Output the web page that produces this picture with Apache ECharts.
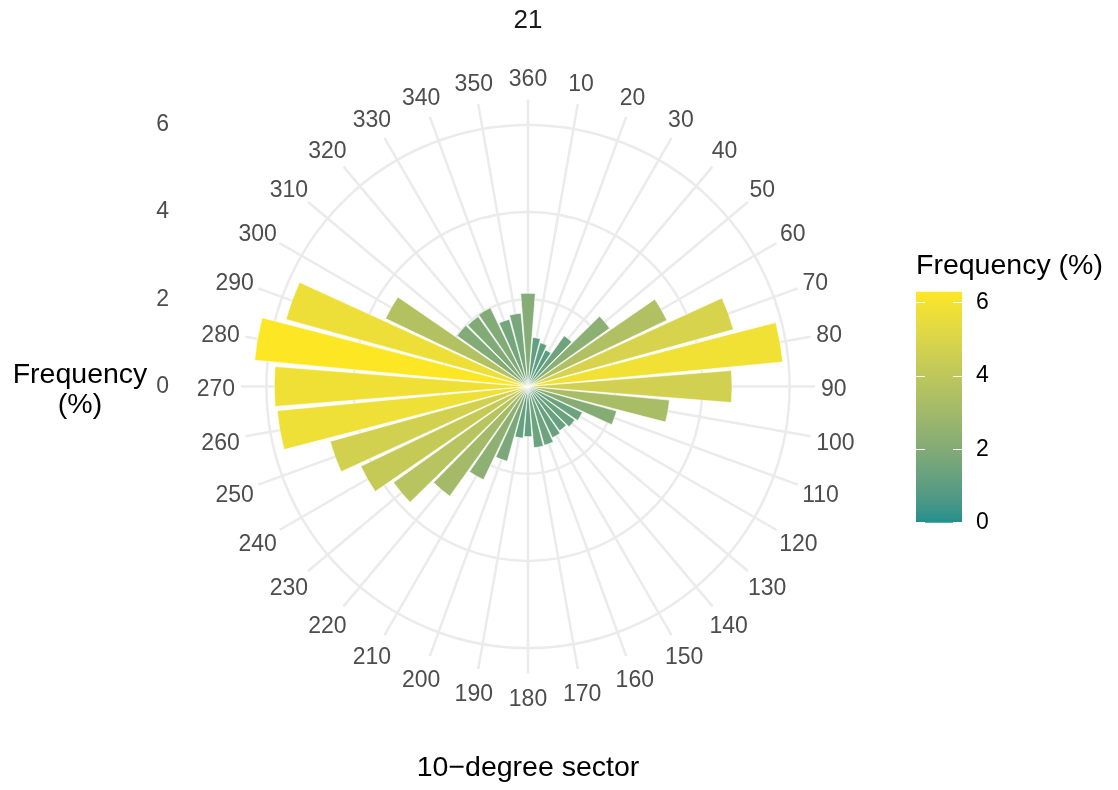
<!DOCTYPE html>
<html>
<head>
<meta charset="utf-8">
<script src="https://cdn.jsdelivr.net/npm/echarts@6/dist/echarts.min.js"></script>
<style>
html, body { margin: 0; padding: 0; background: #ffffff; }
#chart { width: 1118px; height: 790px; }
</style>
</head>
<body>
<div id="chart"></div>
<script>
// 10-degree direction sectors (compass bearing of each sector centre)
const sectors = ['10', '20', '30', '40', '50', '60', '70', '80', '90',
  '100', '110', '120', '130', '140', '150', '160', '170', '180',
  '190', '200', '210', '220', '230', '240', '250', '260', '270',
  '280', '290', '300', '310', '320', '330', '340', '350', '360'];

// Share of observations falling in each sector (%)
const frequency = [1.13, 1.04, 0.93, 1.43, 2.30, 3.53, 4.89, 5.87, 4.68,
  3.26, 2.11, 1.38, 1.32, 1.25, 1.30, 1.40, 1.41, 1.15,
  1.19, 1.78, 2.37, 3.09, 3.79, 4.25, 4.71, 5.78, 5.82,
  6.30, 5.76, 3.62, 2.00, 1.97, 2.00, 1.60, 1.69, 2.14];

const radialTicks = [0, 2, 4, 6];
const legendTicks = [0, 2, 4, 6];

const plotTitle = '21';
const xTitle = '10\u2212degree sector';
const yTitle = 'Frequency\n(%)';
const legendTitle = 'Frequency (%)';

// ---- two-colour gradient interpolated in CIE Lab ----
const lowColor = '#21908C';
const highColor = '#FDE725';

function toLin(c) { c /= 255; return c <= 0.04045 ? c / 12.92 : Math.pow((c + 0.055) / 1.055, 2.4); }
function fromLin(c) {
  c = c <= 0.0031308 ? 12.92 * c : 1.055 * Math.pow(c, 1 / 2.4) - 0.055;
  return Math.round(Math.max(0, Math.min(1, c)) * 255);
}
const WN = [0.95047, 1.0, 1.08883];
function fLab(t) { return t > 216 / 24389 ? Math.cbrt(t) : (24389 / 27 * t + 16) / 116; }
function fInv(f) { const f3 = f * f * f; return f3 > 216 / 24389 ? f3 : (116 * f - 16) / (24389 / 27); }
function hexToLab(hex) {
  const r = toLin(parseInt(hex.slice(1, 3), 16));
  const g = toLin(parseInt(hex.slice(3, 5), 16));
  const b = toLin(parseInt(hex.slice(5, 7), 16));
  const X = (0.4124564 * r + 0.3575761 * g + 0.1804375 * b) / WN[0];
  const Y = (0.2126729 * r + 0.7151522 * g + 0.0721750 * b) / WN[1];
  const Z = (0.0193339 * r + 0.1191920 * g + 0.9503041 * b) / WN[2];
  const fx = fLab(X), fy = fLab(Y), fz = fLab(Z);
  return [116 * fy - 16, 500 * (fx - fy), 200 * (fy - fz)];
}
function labToHex(lab) {
  const fy = (lab[0] + 16) / 116, fx = fy + lab[1] / 500, fz = fy - lab[2] / 200;
  const X = fInv(fx) * WN[0], Y = fInv(fy) * WN[1], Z = fInv(fz) * WN[2];
  const r = fromLin(3.2404542 * X - 1.5371385 * Y - 0.4985314 * Z);
  const g = fromLin(-0.9692660 * X + 1.8760108 * Y + 0.0415560 * Z);
  const b = fromLin(0.0556434 * X - 0.2040259 * Y + 1.0572252 * Z);
  return '#' + [r, g, b].map(v => v.toString(16).padStart(2, '0')).join('');
}
const labLow = hexToLab(lowColor), labHigh = hexToLab(highColor);
function rampAt(t) {
  t = Math.max(0, Math.min(1, t));
  return labToHex([0, 1, 2].map(k => labLow[k] + (labHigh[k] - labLow[k]) * t));
}
const nStops = 16;
const rampStops = [];
for (let i = 0; i <= nStops; i++) rampStops.push({ offset: i / nStops, color: rampAt(i / nStops) });

const maxFreq = Math.max.apply(null, frequency);

// ---- geometry of the polar panel ----
const cx = 528, cy = 386.5;
const pxPerUnit = 43.6;
const outerR = 287;
const radiusMax = outerR / pxPerUnit;
const labelR = 293;      // anchor ring for the sector labels
const labelH = 34;       // text box height used for radial justification
const textDrop = 3;      // optical baseline correction for digits

const FONT = "'Liberation Sans', Arial, Helvetica, sans-serif";
const LABEL_SIZE = 23;
const gridGrey = '#EBEBEB';
const tickGrey = '#4D4D4D';

// bars coloured by their own frequency
const barData = frequency.map(v => ({ value: v, itemStyle: { color: rampAt(v / maxFreq) } }));

// sector labels justified smoothly around the ring (text leans outward)
const measureCtx = document.createElement('canvas').getContext('2d');
measureCtx.font = LABEL_SIZE + 'px ' + FONT;
const labelRing = sectors.map(s => {
  const th = Number(s) * Math.PI / 180;
  const w = measureCtx.measureText(s).width;
  return {
    name: s,
    value: [labelR / pxPerUnit, s],
    label: { offset: [w / 2 * Math.sin(th), -labelH / 2 * Math.cos(th) + textDrop] }
  };
});

const chart = echarts.init(document.getElementById('chart'), null, { renderer: 'canvas' });

chart.setOption({
  backgroundColor: '#ffffff',
  animation: false,
  textStyle: { fontFamily: FONT },
  title: [
    { text: plotTitle, left: cx, top: 7, textAlign: 'center', padding: 0,
      textStyle: { fontFamily: FONT, fontSize: 26, fontWeight: 'normal', color: '#1A1A1A', lineHeight: 28 } },
    { text: xTitle, left: cx, top: 753, textAlign: 'center', padding: 0,
      textStyle: { fontFamily: FONT, fontSize: 28.5, fontWeight: 'normal', color: '#000000', lineHeight: 30 } },
    { text: yTitle, left: 80, top: 360, textAlign: 'center', padding: 0,
      textStyle: { fontFamily: FONT, fontSize: 28.5, fontWeight: 'normal', color: '#000000', lineHeight: 30, align: 'center' } },
    { text: legendTitle, left: 916, top: 251, padding: 0,
      textStyle: { fontFamily: FONT, fontSize: 28.5, fontWeight: 'normal', color: '#000000', lineHeight: 30 } }
  ],
  polar: { center: [cx, cy], radius: outerR },
  angleAxis: {
    type: 'category',
    data: sectors,
    startAngle: 85,
    clockwise: true,
    boundaryGap: true,
    axisLine: { show: false },
    axisTick: { show: false, alignWithLabel: true, interval: 0 },
    axisLabel: { show: false, interval: 0 },
    splitLine: { show: true, interval: 0, lineStyle: { color: gridGrey, width: 2.5 } },
    z: 1
  },
  radiusAxis: {
    type: 'value',
    min: 0,
    max: radiusMax,
    interval: 2,
    axisLine: { show: false },
    axisTick: { show: false },
    axisLabel: { show: false },
    splitLine: { show: true, lineStyle: { color: [gridGrey, gridGrey, gridGrey, gridGrey, 'rgba(0,0,0,0)'], width: 2.5 } },
    z: 1
  },
  grid: [
    // colour bar
    { left: 916, top: 291.7, width: 46, height: 231, containLabel: false },
    // radial scale labels
    { left: 178, top: cy - 6 * pxPerUnit, width: 10, height: 6 * pxPerUnit, containLabel: false }
  ],
  xAxis: [
    { gridIndex: 0, type: 'category', data: [''], show: false },
    { gridIndex: 1, type: 'value', min: 0, max: 1, show: false }
  ],
  yAxis: [
    { gridIndex: 0, type: 'value', position: 'right', min: 0, max: maxFreq, interval: 2,
      axisLine: { show: false }, splitLine: { show: false },
      axisTick: { show: true, inside: true, length: 9, customValues: legendTicks, lineStyle: { color: '#ffffff', width: 1 } },
      axisLabel: { show: true, margin: 14, customValues: legendTicks, color: '#000000', fontSize: LABEL_SIZE,
        fontFamily: FONT, padding: [2 * textDrop - 1, 0, 0, 0] },
      z: 5 },
    { gridIndex: 0, type: 'value', position: 'left', min: 0, max: maxFreq, interval: 2,
      axisLine: { show: false }, splitLine: { show: false },
      axisTick: { show: true, inside: true, length: 9, customValues: legendTicks, lineStyle: { color: '#ffffff', width: 1 } },
      axisLabel: { show: false },
      z: 5 },
    { gridIndex: 1, type: 'value', position: 'left', min: 0, max: 6, interval: 2,
      axisLine: { show: false }, splitLine: { show: false }, axisTick: { show: false },
      axisLabel: { show: true, margin: 9, customValues: radialTicks, color: tickGrey, fontSize: LABEL_SIZE,
        fontFamily: FONT, padding: [2 * textDrop, 0, 0, 0] } }
  ],
  series: [
    {
      type: 'bar',
      coordinateSystem: 'polar',
      data: barData,
      barCategoryGap: '10%',
      itemStyle: { borderColor: '#ffffff', borderWidth: 0.6 },
      z: 3
    },
    {
      type: 'bar',
      xAxisIndex: 0,
      yAxisIndex: 0,
      data: [maxFreq],
      barWidth: '100%',
      itemStyle: { color: { type: 'linear', x: 0, y: 1, x2: 0, y2: 0, colorStops: rampStops } },
      z: 2
    },
    {
      type: 'scatter',
      coordinateSystem: 'polar',
      data: labelRing,
      symbolSize: 1,
      itemStyle: { color: 'rgba(0,0,0,0)', opacity: 1 },
      clip: false,
      silent: true,
      label: {
        show: true,
        position: 'inside',
        formatter: '{b}',
        color: tickGrey,
        opacity: 1,
        fontSize: LABEL_SIZE,
        fontFamily: FONT,
        align: 'center',
        verticalAlign: 'middle'
      },
      z: 4
    }
  ]
});
</script>
</body>
</html>
